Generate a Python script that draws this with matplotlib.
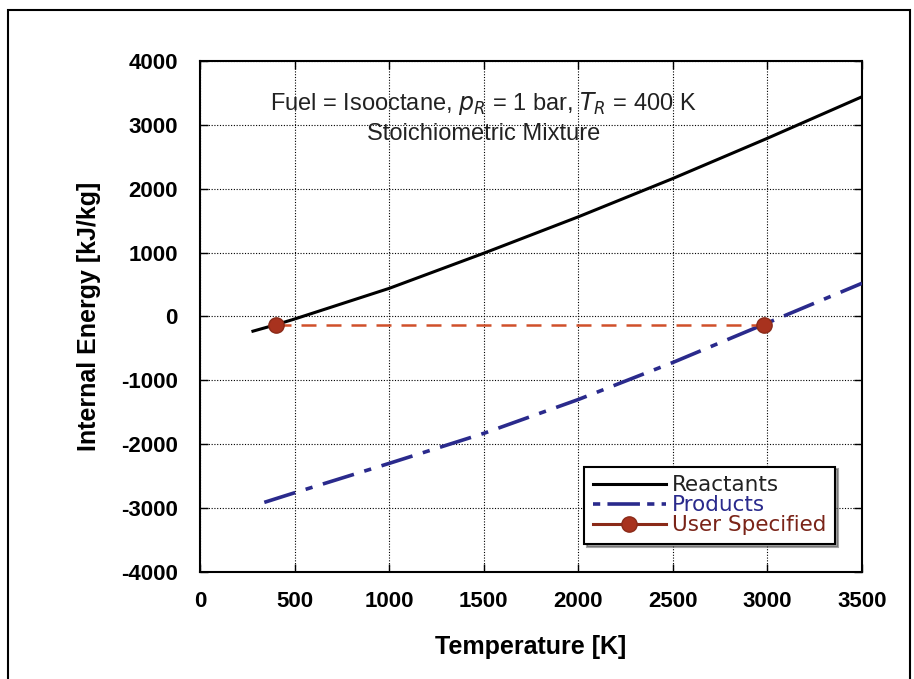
import matplotlib
matplotlib.use("Agg")
import matplotlib.pyplot as plt
from matplotlib.patches import Rectangle
from matplotlib.lines import Line2D

# DATA
T_reac = [280, 400, 500, 1000, 1500, 2000, 2500, 3000, 3500]
U_reac = [-230, -130, -40, 440, 990, 1560, 2160, 2790, 3440]

T_prod = [340, 500, 1000, 1500, 2000, 2500, 3000, 3500]
U_prod = [-2910, -2760, -2300, -1830, -1300, -720, -100, 520]

T_user = [400, 2980]
U_user = [-130, -130]

x_ticks = [0, 500, 1000, 1500, 2000, 2500, 3000, 3500]
y_ticks = [-4000, -3000, -2000, -1000, 0, 1000, 2000, 3000, 4000]

plt.rcParams['font.family'] = ['Liberation Sans', 'DejaVu Sans']
plt.rcParams['axes.unicode_minus'] = False

fig = plt.figure(figsize=(9.14, 6.79), dpi=100)
ax = fig.add_axes([0.2188, 0.1576, 0.7243, 0.7526])

# outer frame of the figure
fig.patches.append(Rectangle((0.009, -0.05), 0.987, 1.035, transform=fig.transFigure,
                             fill=False, edgecolor='black', linewidth=1.5))

ax.plot(T_reac, U_reac, color='black', linewidth=2.2, zorder=3)
ax.plot(T_prod, U_prod, color='#2a2a8c', linewidth=2.6, dashes=(9, 3, 2, 3), zorder=3)
ax.plot(T_user, U_user, color='#d0502a', linewidth=1.8, dashes=(6, 4), zorder=4)
ax.plot(T_user, U_user, linestyle='none', marker='o', markersize=11,
        color='#a8321e', markeredgecolor='#8a2a18', zorder=5)

ax.set_xlim(0, 3500)
ax.set_ylim(-4000, 4000)
ax.set_xticks(x_ticks)
ax.set_yticks(y_ticks)
ax.grid(True, color='black', linestyle=(0, (1, 1.5)), linewidth=0.8)
ax.tick_params(direction='in', length=6, width=1, top=True, right=True,
               labelsize=16)
ax.tick_params(axis='x', pad=14)
ax.tick_params(axis='y', pad=16)
for lab in ax.get_xticklabels() + ax.get_yticklabels():
    lab.set_fontweight('bold')
for s in ax.spines.values():
    s.set_linewidth(1.5)

ax.set_xlabel('Temperature [K]', fontsize=18, fontweight='bold', labelpad=16)
ax.set_ylabel('Internal Energy [kJ/kg]', fontsize=18, fontweight='bold', labelpad=14)

ax.text(1500, 3330, r'Fuel = Isooctane, $p_R$ = 1 bar, $T_R$ = 400 K',
        ha='center', va='center', fontsize=17, color='#222222')
ax.text(1500, 2860, 'Stoichiometric Mixture', ha='center', va='center',
        fontsize=17, color='#222222')

handles = [
    Line2D([], [], color='black', linewidth=2.2),
    Line2D([], [], color='#2a2a8c', linewidth=2.6, dashes=(2, 2, 9, 2)),
    Line2D([], [], color='#8a2a18', linewidth=2.2, marker='o', markersize=11,
           markerfacecolor='#a8321e'),
]
leg = ax.legend(handles, ['Reactants', 'Products', 'User Specified'],
                loc='lower right', bbox_to_anchor=(0.976, 0.034),
                prop={'family': 'DejaVu Sans', 'size': 15.5},
                frameon=True, fancybox=False, shadow=True, handlelength=3.4,
                borderpad=0.4, labelspacing=0.0, handletextpad=0.3)
leg.get_frame().set_edgecolor('black')
leg.get_frame().set_linewidth(1.5)
for txt, c in zip(leg.get_texts(), ['#222222', '#2a2a8c', '#7a2418']):
    txt.set_color(c)

fig.savefig('out.png', dpi=100)
